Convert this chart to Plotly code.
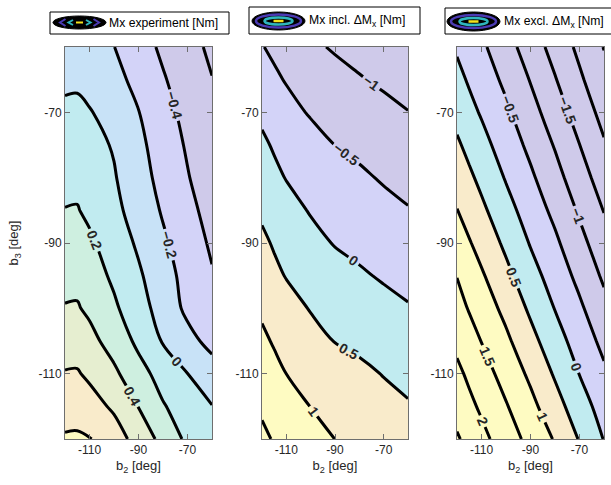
import plotly.graph_objects as go

W, H = 611, 485

# Sample grid of the two blade angles (deg)
B2 = [-120, -115, -110, -100, -90, -80, -70, -60]
B3 = [-60, -65, -70, -75, -80, -85, -90, -95, -100, -105, -110, -115, -120]

# Mx [Nm] on the grid, one row per b3 value (top row b3 = -60)
MX_EXPERIMENT = [
    [-0.095, -0.085, -0.12, -0.197, -0.32, -0.433, -0.535, -0.636],
    [-0.03, -0.025, -0.065, -0.147, -0.25, -0.383, -0.494, -0.595],
    [0.031, 0.035, 0.012, -0.074, -0.195, -0.331, -0.458, -0.57],
    [0.09, 0.095, 0.061, -0.015, -0.156, -0.289, -0.422, -0.543],
    [0.15, 0.155, 0.109, 0.015, -0.124, -0.259, -0.388, -0.515],
    [0.205, 0.21, 0.162, 0.049, -0.082, -0.219, -0.345, -0.47],
    [0.278, 0.285, 0.232, 0.107, -0.029, -0.169, -0.301, -0.428],
    [0.346, 0.35, 0.291, 0.166, 0.028, -0.123, -0.263, -0.385],
    [0.41, 0.415, 0.364, 0.231, 0.08, -0.08, -0.242, -0.375],
    [0.52, 0.52, 0.459, 0.32, 0.158, -0.015, -0.138, -0.26],
    [0.61, 0.615, 0.565, 0.438, 0.27, 0.125, 0.001, -0.112],
    [0.724, 0.725, 0.678, 0.569, 0.395, 0.215, 0.103, 0.005],
    [0.82, 0.825, 0.81, 0.695, 0.523, 0.341, 0.158, 0.09],
]

MX_INCL = [
    [-0.48, -0.585, -0.691, -0.906, -1.054, -1.145, -1.24, -1.333],
    [-0.288, -0.423, -0.53, -0.676, -0.824, -0.968, -1.071, -1.161],
    [-0.096, -0.223, -0.346, -0.543, -0.656, -0.766, -0.879, -0.99],
    [0.084, -0.048, -0.138, -0.32, -0.503, -0.606, -0.713, -0.818],
    [0.253, 0.104, -0.019, -0.154, -0.291, -0.424, -0.545, -0.646],
    [0.422, 0.295, 0.172, -0.034, -0.145, -0.253, -0.364, -0.474],
    [0.592, 0.455, 0.353, 0.147, -0.028, -0.119, -0.212, -0.305],
    [0.756, 0.601, 0.477, 0.338, 0.197, 0.059, -0.05, -0.136],
    [0.922, 0.8, 0.681, 0.473, 0.362, 0.254, 0.143, 0.033],
    [1.09, 0.957, 0.861, 0.666, 0.485, 0.392, 0.297, 0.202],
    [1.259, 1.128, 0.998, 0.87, 0.738, 0.609, 0.48, 0.371],
    [1.428, 1.316, 1.206, 0.992, 0.878, 0.767, 0.653, 0.54],
    [1.597, 1.464, 1.372, 1.185, 0.997, 0.903, 0.805, 0.709],
]

MX_EXCL = [
    [-0.058, -0.238, -0.413, -0.806, -1.241, -1.679, -2.111, -2.517],
    [0.135, -0.054, -0.233, -0.607, -1.025, -1.469, -1.921, -2.353],
    [0.34, 0.135, -0.045, -0.41, -0.822, -1.253, -1.713, -2.159],
    [0.574, 0.364, 0.159, -0.227, -0.616, -1.037, -1.494, -1.95],
    [0.799, 0.586, 0.379, -0.036, -0.418, -0.829, -1.281, -1.738],
    [1.011, 0.803, 0.601, 0.176, -0.229, -0.619, -1.063, -1.519],
    [1.25, 1.035, 0.826, 0.4, -0.032, -0.411, -0.848, -1.293],
    [1.488, 1.271, 1.059, 0.629, 0.187, -0.218, -0.63, -1.08],
    [1.667, 1.468, 1.274, 0.866, 0.416, -0.016, -0.418, -0.854],
    [1.882, 1.683, 1.489, 1.097, 0.654, 0.21, -0.22, -0.629],
    [2.109, 1.908, 1.712, 1.317, 0.904, 0.444, -0.011, -0.417],
    [2.305, 2.111, 1.921, 1.537, 1.136, 0.695, 0.225, -0.21],
    [2.557, 2.345, 2.138, 1.745, 1.355, 0.96, 0.468, -0.02],
]

# contour levels (start, end, step) per panel
LEVELS = [(-0.6, 0.8, 0.2), (-1.0, 1.5, 0.5), (-2.5, 2.5, 0.5)]

TICK_VALS = [-110, -90, -70]
TICK_TEXT = ["-110", "-90", "-70"]

LEGEND_TEXT = [
    "Mx experiment [Nm]",
    "Mx incl. \u0394M<sub>x</sub> [Nm]",
    "Mx excl. \u0394M<sub>x</sub> [Nm]",
]

# pale parula band colours
GP, LV, LB, CY = "#CFCAEA", "#D3D3F8", "#C8E2F7", "#C1EBF0"
MT, YG, PE, YE = "#CEEFE0", "#E6EED0", "#F9EBCB", "#FEFBC2"
BANDS = [
    [GP, GP, LV, LB, CY, MT, YG, PE, YE],
    [GP, GP, LV, CY, PE, YE, YE],
    [GP, GP, GP, GP, GP, LV, CY, PE, YE, YE, YE, YE],
]

FONT = "Liberation Sans, Arial, Helvetica, sans-serif"
TXT = "#262626"
AX = "#6e6e6e"

X_PIX = [(65, 212), (262, 408), (457, 604)]
TOP, BOTTOM = 47, 439


def fx(p):
    return p / W


def fy(p):
    return 1 - p / H


fig = go.Figure()

for i, z in enumerate([MX_EXPERIMENT, MX_INCL, MX_EXCL]):
    start, end, step = LEVELS[i]
    cols = BANDS[i]
    n = len(cols) - 1
    cscale = [[k / n, c] for k, c in enumerate(cols)]
    sfx = "" if i == 0 else str(i + 1)
    fig.add_trace(go.Contour(
        x=B2, y=B3[::-1], z=z[::-1],
        xaxis="x" + sfx, yaxis="y" + sfx,
        autocontour=False,
        contours=dict(start=start, end=end, size=step, coloring="fill",
                      showlabels=True, labelformat=".1~f",
                      labelfont=dict(family=FONT, size=14, color=TXT,
                                     weight="bold")),
        line=dict(color="black", width=3, smoothing=1.0),
        colorscale=cscale, showscale=False, hoverinfo="skip",
    ))

    xa = dict(domain=[fx(X_PIX[i][0]), fx(X_PIX[i][1])], range=[-120, -60],
              tickvals=TICK_VALS, ticktext=TICK_TEXT, ticks="inside",
              ticklen=5, tickcolor=AX, showline=True, linecolor=AX,
              linewidth=1, mirror="ticks", showgrid=False, zeroline=False,
              tickfont=dict(family=FONT, size=12, color=TXT),
              title=dict(text="b<sub>2</sub> [deg]", standoff=4,
                         font=dict(family=FONT, size=13, color=TXT)),
              anchor="y" + sfx, automargin=False)
    ya = dict(domain=[fy(BOTTOM), fy(TOP)], range=[-120, -60],
              tickvals=TICK_VALS, ticktext=TICK_TEXT, ticks="inside",
              ticklen=5, tickcolor=AX, showline=True, linecolor=AX,
              linewidth=1, mirror="ticks", showgrid=False, zeroline=False,
              tickfont=dict(family=FONT, size=12, color=TXT),
              anchor="x" + sfx, automargin=False)
    if i == 0:
        ya["title"] = dict(text="b<sub>3</sub> [deg]", standoff=16,
                           font=dict(family=FONT, size=13, color=TXT))
    fig.update_layout({"xaxis" + sfx: xa, "yaxis" + sfx: ya})

# legend boxes with contour icons
shapes = []
annotations = []
BOXES = [(50, 229, 12, 34), (249, 420, 7, 34), (445, 640, 8, 34)]
ICONS = [(53, 106, 16, 29), (252, 305, 12, 30), (447, 500, 12, 31)]
TEXT_X = [107, 307, 502]
PURPLE, TEAL, YELLOW = "#4B3AB4", "#2FB6BE", "#F3E31C"

for i in range(3):
    x0, x1, y0, y1 = BOXES[i]
    shapes.append(dict(type="rect", xref="paper", yref="paper",
                       x0=fx(x0), x1=fx(x1), y0=fy(y1), y1=fy(y0),
                       line=dict(color="black", width=1), fillcolor="white"))
    a0, a1, b0, b1 = ICONS[i]
    shapes.append(dict(type="circle", xref="paper", yref="paper",
                       x0=fx(a0), x1=fx(a1), y0=fy(b1), y1=fy(b0),
                       line=dict(color="black", width=1), fillcolor="black"))
    cx, cy = (a0 + a1) / 2, (b0 + b1) / 2
    if i == 0:
        def chev(xa, xb, h, col):
            return dict(type="path", xref="paper", yref="paper",
                        path=f"M{fx(xa)},{fy(cy - h)} L{fx(xb)},{fy(cy)} L{fx(xa)},{fy(cy + h)}",
                        line=dict(color=col, width=2))
        shapes += [chev(cx - 14, cx - 19.5, 3.5, PURPLE),
                   chev(cx - 6.5, cx - 11, 2.5, TEAL),
                   chev(cx + 6.5, cx + 11, 2.5, TEAL),
                   chev(cx + 14, cx + 19.5, 3.5, PURPLE)]
        shapes.append(dict(type="line", xref="paper", yref="paper",
                           x0=fx(cx - 3.5), x1=fx(cx + 3.5), y0=fy(cy), y1=fy(cy),
                           line=dict(color=YELLOW, width=2)))
    else:
        shapes.append(dict(type="circle", xref="paper", yref="paper",
                           x0=fx(cx - 22.5), x1=fx(cx + 22.5),
                           y0=fy(cy + 6.5), y1=fy(cy - 6.5),
                           line=dict(color=PURPLE, width=2.5)))
        shapes.append(dict(type="circle", xref="paper", yref="paper",
                           x0=fx(cx - 14), x1=fx(cx + 14),
                           y0=fy(cy + 3.5), y1=fy(cy - 3.5),
                           line=dict(color=TEAL, width=2.5)))
        shapes.append(dict(type="line", xref="paper", yref="paper",
                           x0=fx(cx - 5), x1=fx(cx + 5), y0=fy(cy), y1=fy(cy),
                           line=dict(color=YELLOW, width=2.5)))
    annotations.append(dict(text=LEGEND_TEXT[i], xref="paper", yref="paper",
                            x=fx(TEXT_X[i]), y=fy((y0 + y1) / 2 + (0 if i == 0 else 1)),
                            xanchor="left", yanchor="middle", showarrow=False,
                            font=dict(family=FONT, size=12.2, color="black")))

fig.update_layout(
    width=W, height=H,
    margin=dict(l=0, r=0, t=0, b=0),
    paper_bgcolor="white", plot_bgcolor="white",
    showlegend=False,
    shapes=shapes, annotations=annotations,
)

fig.write_html("out.html")
